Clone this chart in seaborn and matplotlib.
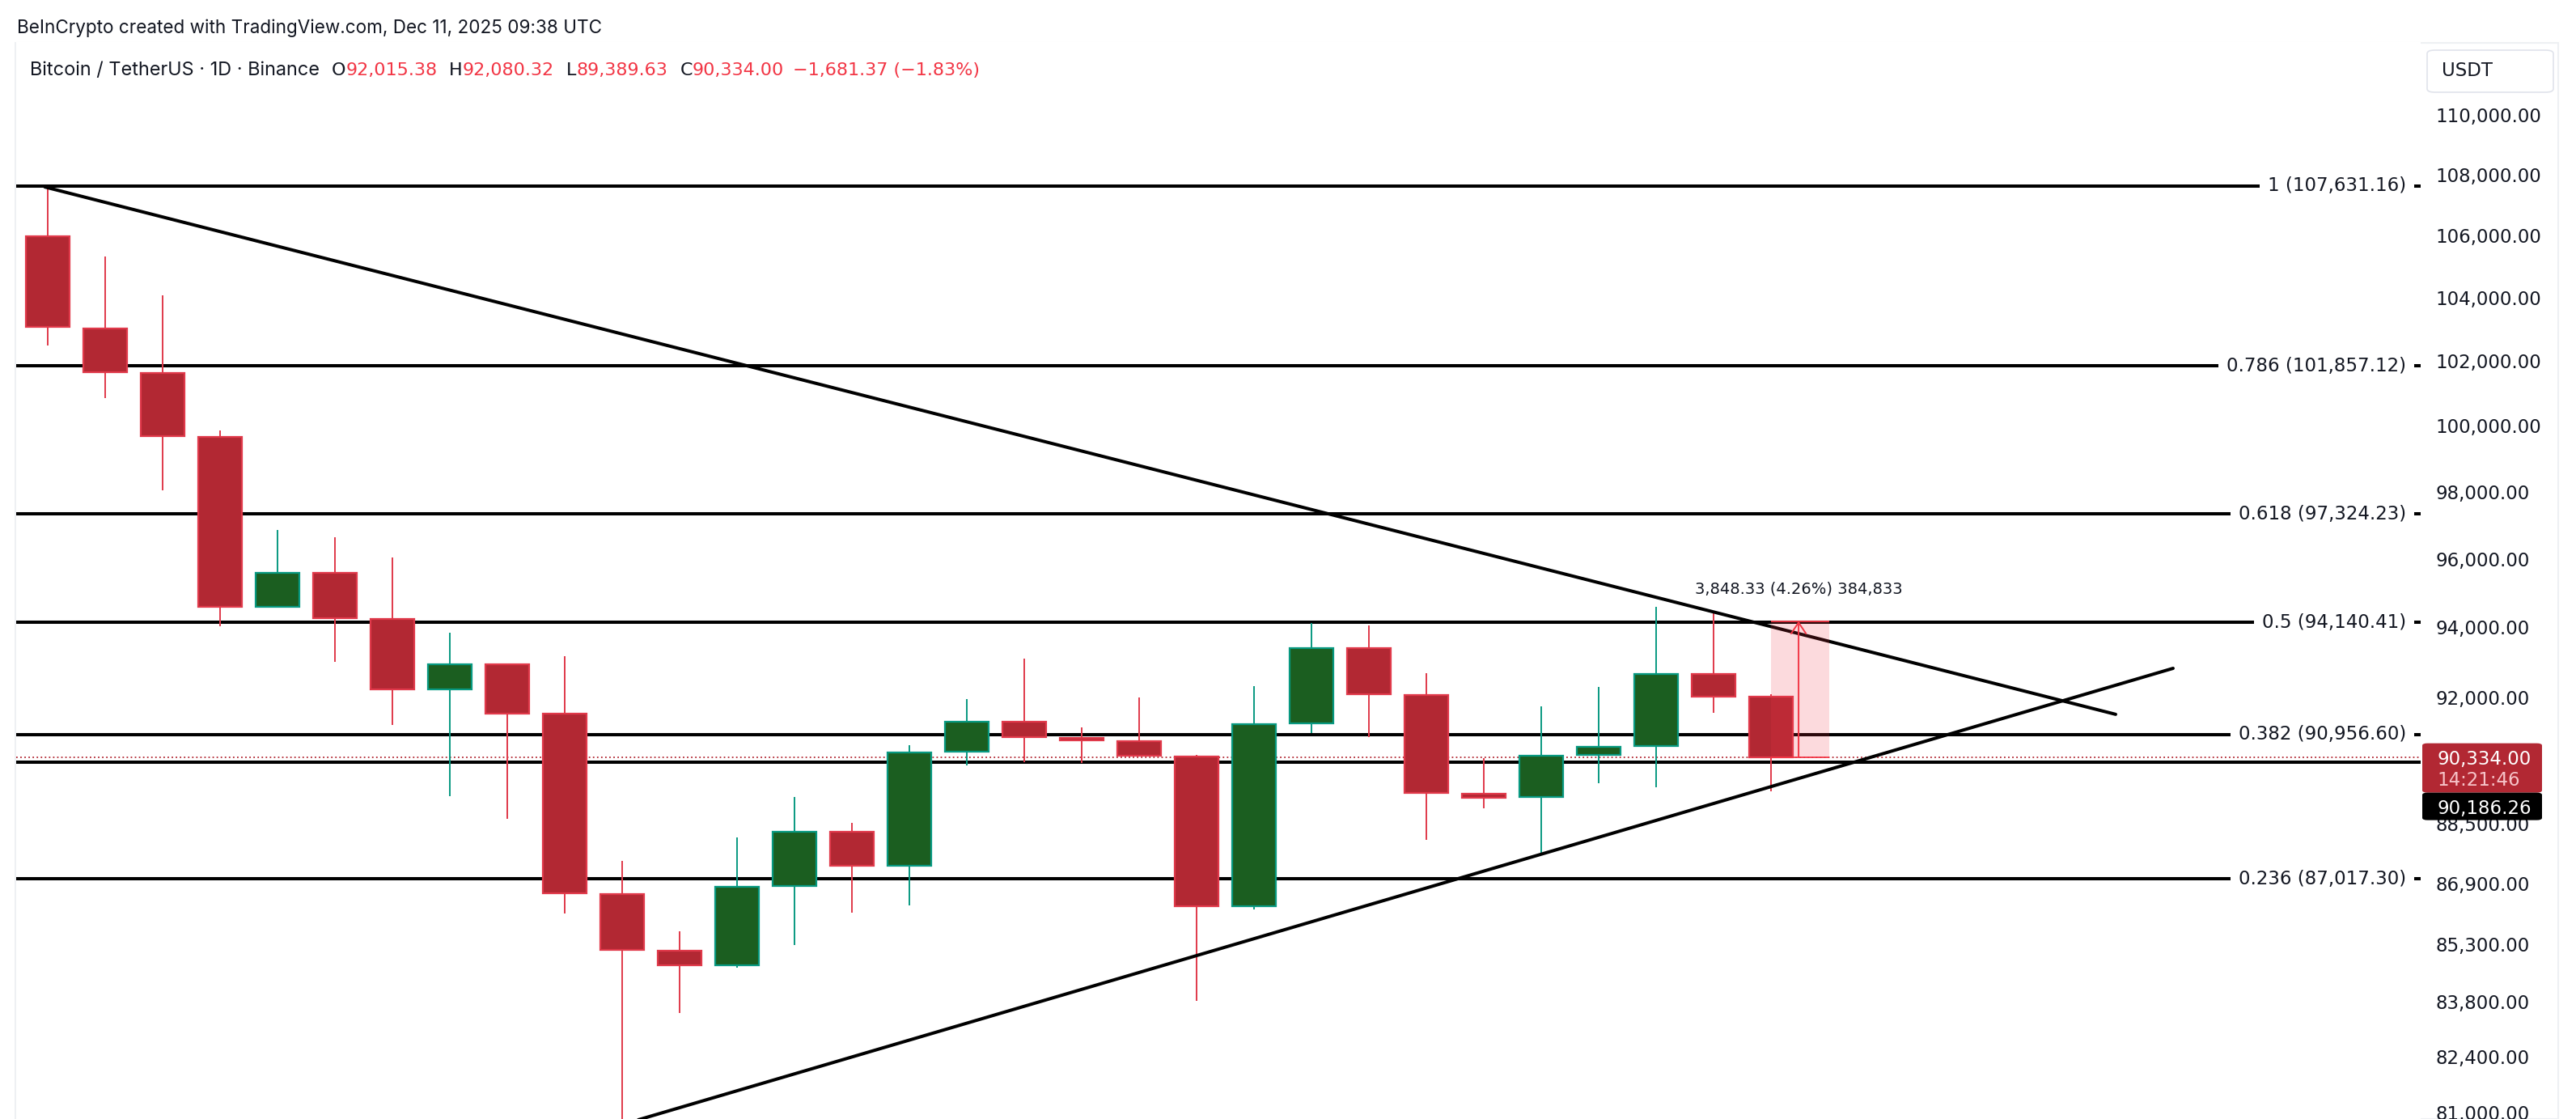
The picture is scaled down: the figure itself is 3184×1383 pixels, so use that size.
import numpy as np
import matplotlib
matplotlib.use("Agg")
import matplotlib.pyplot as plt
import seaborn as sns
from matplotlib.patches import Rectangle, FancyBboxPatch
from matplotlib.ticker import FixedLocator, NullLocator, FuncFormatter
from matplotlib.transforms import blended_transform_factory

# BTC/USDT daily candles, oldest first
opens = [105990, 103040, 101640, 99660, 94594, 95583, 94231, 92224, 92936, 91555,
         86624, 85130, 84735, 86836, 88290, 87372, 90478, 91311, 90867, 90784,
         90351, 86284, 91278, 93402, 92066, 89319, 89237, 90394, 90637, 92670, 92015.38]
highs = [107631, 105326, 104086, 99858, 96845, 96638, 96033, 93842, 92976, 93174,
         87492, 85623, 88125, 89227, 88524, 90655, 91950, 93098, 91151, 91993,
         90403, 92314, 94130, 94064, 92688, 90300, 91758, 92291, 94592, 94474, 92080.32]
lows = [102483, 100844, 98025, 94027, 94560, 93001, 91228, 89262, 88628, 86103,
        80600, 83514, 84685, 85277, 86122, 86323, 90110, 90195, 90172, 90350,
        83825, 86213, 90993, 90898, 88073, 88925, 87726, 89621, 89503, 91572, 89389.63]
closes = [103067, 101655, 99688, 94594, 95583, 94257, 92224, 92936, 91555, 86644,
          85138, 84735, 86806, 88290, 87372, 90457, 91311, 90899, 90793, 90371,
          86284, 91259, 93402, 92088, 89340, 89219, 90371, 90614, 92670, 92015.37, 90334.00]

# fibonacci retracement levels
fib_ratios = [1, 0.786, 0.618, 0.5, 0.382, 0.236]
fib_prices = [107631.16, 101857.12, 97324.23, 94140.41, 90956.60, 87017.30]

# extra horizontal level and live price
support_price = 90186.26
last_price = 90334.00
countdown = "14:21:46"

# triangle trend lines: (candle index, price) anchors
upper_x = [-0.05, 36.0]
upper_p = [107600, 91525]
lower_x = [10, 37.0]
lower_p = [80700, 92826]

# measure tool
measure_start = 30
measure_end = 31.01
measure_delta = 3848.33
measure_pct = 4.26
measure_ticks = 384833

# price axis ticks
y_ticks = [110000, 108000, 106000, 104000, 102000, 100000, 98000, 96000, 94000,
           92000, 88500, 86900, 85300, 83800, 82400, 81000]

header = "BeInCrypto created with TradingView.com, Dec 11, 2025 09:38 UTC"
symbol = "Bitcoin / TetherUS · 1D · Binance"

RED = "#f23645"
RED_BODY = "#b22833"
RED_EDGE = "#e0394a"
GREEN_BODY = "#1b5e20"
GREEN_EDGE = "#089981"
INK = "#131722"
NUM_FONT = ["DejaVu Sans"]
UI_FONT = ["Inter", "DejaVu Sans"]

sns.set_theme(style="white")
plt.rcParams["font.family"] = NUM_FONT

W, H = 3184, 1383
fig = plt.figure(figsize=(W / 100, H / 100), dpi=100)
fig.patch.set_facecolor("white")


def fx(x):
    return x / W


def fy(y):
    return 1 - y / H


ax = fig.add_axes([fx(20), 0, fx(2992 - 20), (H - 52) / H])
ax.set_facecolor("white")
ax.set_yscale("log")
ax.set_xlim(-0.549, 41.31)
ax.set_ylim(80838, 112492)

o = np.array(opens)
h = np.array(highs)
l = np.array(lows)
c = np.array(closes)
x = np.arange(len(o))
up = c > o
body_col = np.where(up, GREEN_BODY, RED_BODY)
edge_col = np.where(up, GREEN_EDGE, RED_EDGE)

# horizontal levels behind candles
trans = blended_transform_factory(ax.transAxes, ax.transData)
for r, p in zip(fib_ratios, fib_prices):
    ax.axhline(p, color="black", lw=2.9, zorder=1)
    ax.text((2974 - 20) / (2992 - 20), p, f"{r:g} ({p:,.2f})", transform=trans,
            ha="right", va="center", fontsize=16.5, color=INK, zorder=6,
            bbox=dict(boxstyle="square,pad=0.42", fc="white", ec="none"))
ax.axhline(support_price, color="black", lw=2.9, zorder=1)
ax.axhline(last_price, color=RED_BODY, lw=1.3, ls=(0, (1, 1.8)), zorder=1)

# candles
ax.vlines(x, l, h, colors=edge_col, lw=1.4, zorder=2)
ax.bar(x, np.abs(c - o), bottom=np.minimum(o, c), width=0.77, color=body_col,
       edgecolor=edge_col, linewidth=1.6, zorder=3)

# triangle
sns.lineplot(x=upper_x, y=upper_p, ax=ax, color="black", lw=2.9, zorder=5)
sns.lineplot(x=lower_x, y=lower_p, ax=ax, color="black", lw=2.9, zorder=5)

# measure tool
ax.add_patch(Rectangle((measure_start, last_price), measure_end - measure_start,
                       measure_delta, facecolor=RED, alpha=0.18, edgecolor="none", zorder=6))
ax.hlines([last_price, last_price + measure_delta], measure_start, measure_end,
          colors=RED, lw=1.3, zorder=6)
mid = (measure_start + measure_end) / 2 - 0.025
ax.annotate("", xy=(mid, last_price + measure_delta), xytext=(mid, last_price),
            arrowprops=dict(arrowstyle="->,head_length=0.45,head_width=0.3", color=RED,
                            lw=1.4, shrinkA=0, shrinkB=0, mutation_scale=22), zorder=7)
ax.annotate(f"{measure_delta:,.2f} ({measure_pct:.2f}%) {measure_ticks:,}",
            xy=(mid, last_price + measure_delta), xytext=(0, 40), textcoords="offset pixels",
            ha="center", va="center", fontsize=14, color=INK, zorder=7)

# price scale
ax.yaxis.set_major_locator(FixedLocator(y_ticks))
ax.yaxis.set_minor_locator(NullLocator())
ax.yaxis.set_major_formatter(FuncFormatter(lambda v, _: f"{v:,.2f}"))
ax.yaxis.tick_right()
ax.tick_params(axis="y", length=0, pad=13.5, labelsize=16.5, labelcolor=INK)
ax.set_xticks([])
ax.grid(False)
for s in ax.spines.values():
    s.set_visible(False)

# panel frame
fig.add_artist(Rectangle((fx(19), 0), fx(3162 - 19), (H - 53) / H, transform=fig.transFigure,
                         fill=False, ec="#eef0f3", lw=1.5, zorder=0))

# USDT button
fig.add_artist(FancyBboxPatch((fx(3000), fy(114)), fx(156), (114 - 62) / H,
                              boxstyle="round,pad=0,rounding_size=0.003",
                              transform=fig.transFigure, fc="white", ec="#e0e3eb", lw=1.2))
fig.text(fx(3018), fy(88), "USDT", fontsize=16.5, color=INK, va="center", ha="left")

# live price labels on the scale
_, yc = ax.transData.transform((0, last_price))
yc = H - yc
fig.add_artist(FancyBboxPatch((fx(2994), fy(yc + 44)), fx(148), 61 / H,
                              boxstyle="round,pad=0,rounding_size=0.002",
                              transform=fig.transFigure, fc=RED_BODY, ec="none", zorder=3))
fig.text(fx(3012), fy(yc), f"{last_price:,.2f}", fontsize=16.5, color="white",
         va="center_baseline", ha="left", zorder=4)
fig.text(fx(3012), fy(yc + 26), countdown, fontsize=16.5, color="#f6c3c8",
         va="center_baseline", ha="left", zorder=4)
fig.add_artist(FancyBboxPatch((fx(2994), fy(yc + 78)), fx(148), 34 / H,
                              boxstyle="round,pad=0,rounding_size=0.002",
                              transform=fig.transFigure, fc="black", ec="none", zorder=3))
fig.text(fx(3012), fy(yc + 61), f"{support_price:,.2f}", fontsize=16.5, color="white",
         va="center_baseline", ha="left", zorder=4)

# header lines
fig.text(fx(20.7), fy(40.7), header, fontsize=16.2, color=INK, va="baseline", ha="left",
         family=UI_FONT)

renderer = fig.canvas.get_renderer()
o_last, h_last, l_last, c_last = opens[-1], highs[-1], lows[-1], closes[-1]
chg = c_last - closes[-2]
chg_pct = chg / closes[-2] * 100
parts = [
    (symbol, INK, 15, UI_FONT, 16.9), ("O", INK, 0, NUM_FONT, 16.0),
    (f"{o_last:,.2f}", RED, 15, NUM_FONT, 16.0),
    ("H", INK, 0, NUM_FONT, 16.0), (f"{h_last:,.2f}", RED, 15, NUM_FONT, 16.0),
    ("L", INK, 0, NUM_FONT, 16.0), (f"{l_last:,.2f}", RED, 15, NUM_FONT, 16.0),
    ("C", INK, 0, NUM_FONT, 16.0), (f"{c_last:,.2f}", RED, 11, NUM_FONT, 16.0),
    (f"{chg:,.2f} ({chg_pct:.2f}%)".replace("-", "\u2212"), RED, 0, NUM_FONT, 16.0),
]
cx = 36.7
for txt, col, gap, fam, size in parts:
    t = fig.text(fx(cx), fy(93.3), txt, fontsize=size, color=col, va="baseline", ha="left",
                 family=fam)
    cx = t.get_window_extent(renderer).x1 + gap

fig.savefig("out.png", dpi=100, facecolor="white")
